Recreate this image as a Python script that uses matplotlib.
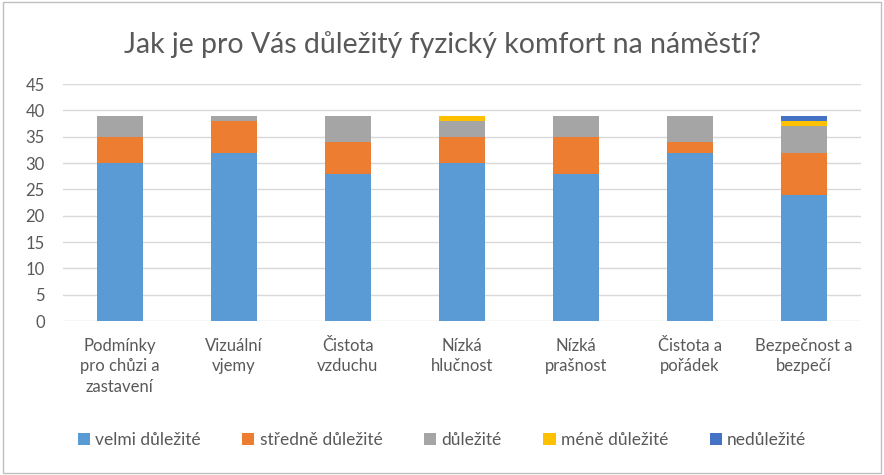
import matplotlib
matplotlib.use('Agg')
from matplotlib import pyplot as plt
from matplotlib.patches import Rectangle
import numpy as np

categories = ['Podmínky\npro chůzi a\nzastavení', 'Vizuální\nvjemy', 'Čistota\nvzduchu',
              'Nízká\nhlučnost', 'Nízká\nprašnost', 'Čistota a\npořádek', 'Bezpečnost a\nbezpečí']
series_names = ['velmi důležité', 'středně důležité', 'důležité', 'méně důležité', 'nedůležité']
velmi = [30, 32, 28, 30, 28, 32, 24]
stredne = [5, 6, 6, 5, 7, 2, 8]
dulezite = [4, 1, 5, 3, 4, 5, 5]
mene = [0, 0, 0, 1, 0, 0, 1]
nedulezite = [0, 0, 0, 0, 0, 0, 1]
colors = ['#5b9bd5', '#ed7d31', '#a5a5a5', '#ffc000', '#4472c4']

plt.rcParams['font.family'] = ['Lato', 'DejaVu Sans']
text_color = '#595959'

fig = plt.figure(figsize=(8.84, 4.75), dpi=100)
ax = fig.add_axes([0.071, 0.324, 0.903, 0.499])

x = np.arange(len(categories))
bottom = np.zeros(len(categories))
for name, vals, c in zip(series_names, [velmi, stredne, dulezite, mene, nedulezite], colors):
    ax.bar(x, vals, 0.4, bottom=bottom, color=c, label=name, zorder=3)
    bottom += np.array(vals)

ax.set_xlim(-0.5, len(categories) - 0.5)
ax.set_ylim(0, 45)
ax.set_yticks(range(0, 46, 5))
ax.set_xticks(x)
ax.set_xticklabels(categories, fontsize=12, color=text_color, linespacing=1.35)
ax.tick_params(axis='y', labelsize=12, labelcolor=text_color, length=0, pad=13)
ax.tick_params(axis='x', length=0, pad=12)
ax.grid(axis='y', color='#d9d9d9', linewidth=1, zorder=0)
for s in ax.spines.values():
    s.set_visible(False)

fig.suptitle('Jak je pro Vás důležitý fyzický komfort na náměstí?', y=0.935,
             fontsize=20.5, color=text_color)
fig.legend(loc='center', bbox_to_anchor=(0.5, 0.074), ncol=5, frameon=False,
           fontsize=12.5, labelcolor=text_color, handlelength=0.7, handleheight=0.7,
           handletextpad=0.3, columnspacing=2.4)
fig.patches.append(Rectangle((0.003, 0.004), 0.994, 0.992, transform=fig.transFigure,
                             fill=False, edgecolor='#bfbfbf', linewidth=1))
fig.savefig('out.png', dpi=100)
